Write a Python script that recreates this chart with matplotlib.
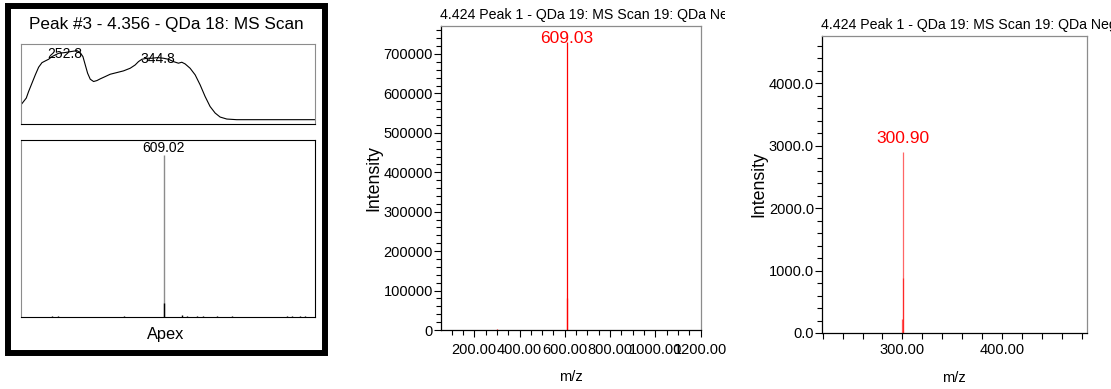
#!/usr/bin/env python3

import matplotlib
matplotlib.use("Agg")
import matplotlib.pyplot as plt
from matplotlib.patches import Rectangle
from matplotlib.ticker import MultipleLocator, FixedLocator
from matplotlib.transforms import Bbox


W, H = 1111, 389

# PDA spectrum at the peak apex (relative absorbance)
uv_wavelength = [210.0, 212.6, 215.2, 217.5, 220.8, 224.1, 227.4, 230.7, 233.9, 237.2,
                 240.5, 243.8, 247.1, 252.8, 258.6, 265.2, 268.4, 271.1, 273.4, 275.7,
                 278.3, 281.6, 284.9, 288.1, 293.1, 298.0, 304.6, 311.1, 317.7, 322.6,
                 325.9, 329.2, 334.1, 339.1, 344.8, 350.5, 355.5, 360.4, 365.3, 368.6,
                 371.9, 376.8, 381.8, 386.7, 391.6, 396.5, 401.5, 406.4, 413.0, 422.8,
                 500.0]
uv_absorbance = [0.240, 0.282, 0.324, 0.406, 0.510, 0.614, 0.710, 0.767, 0.788, 0.809,
                 0.842, 0.863, 0.884, 0.892, 0.904, 0.917, 0.892, 0.842, 0.738, 0.635,
                 0.560, 0.531, 0.543, 0.564, 0.593, 0.622, 0.643, 0.664, 0.697, 0.738,
                 0.780, 0.809, 0.822, 0.822, 0.830, 0.822, 0.809, 0.780, 0.760, 0.772,
                 0.751, 0.697, 0.614, 0.489, 0.344, 0.219, 0.137, 0.087, 0.062, 0.054,
                 0.054]
uv_labels = [252.8, 344.8]

# apex MS scan (QDa 18)
apex_mz = [170, 196, 453, 609.02, 610.02, 679, 698, 737, 763, 815, 874, 1089, 1109, 1141, 1161]
apex_int = [6000, 6000, 5000, 725000, 62000, 7000, 6000, 6000, 5000, 6000, 6000, 6000, 5000, 6000, 6000]
apex_label = 609.02

# MS scan 19 (QDa negative)
scan_mz = [299.90, 300.90, 301.00, 609.03, 610.03]
scan_int = [220, 2905, 880, 731000, 81000]
scan_label_full = 609.03
scan_label_zoom = 300.90

TITLE_SCAN = "4.424 Peak 1 - QDa 19: MS Scan 19: QDa Neg"
GRAY = "#8c8c8c"
RED = "#ff0000"

plt.rcParams["font.family"] = ["Liberation Sans", "DejaVu Sans"]


def px_box(x0, y0, x1, y1):
    return [x0 / W, 1 - y1 / H, (x1 - x0) / W, (y1 - y0) / H]


def style_spectrum_axes(ax):
    for side in ("top", "right"):
        ax.spines[side].set_color(GRAY)
    for side in ("left", "bottom"):
        ax.spines[side].set_color("black")
    for spine in ax.spines.values():
        spine.set_linewidth(0.9)
    ax.tick_params(axis="both", which="major", direction="out", length=5, width=0.8,
                   labelsize=10.5, colors="black")
    ax.tick_params(axis="both", which="minor", direction="out", length=3.5, width=0.8)
    ax.tick_params(axis="y", which="both", pad=0.5)
    ax.set_ylabel("Intensity", fontsize=12.8)
    ax.set_xlabel("m/z", fontsize=10.5, labelpad=10)


fig = plt.figure(figsize=(W / 100, H / 100), dpi=100)

# ---- panel 1: apex PDA + MS summary, framed ----
frame = Rectangle((8 / W, 1 - 353 / H), 317 / W, 347 / H, transform=fig.transFigure,
                  fill=False, edgecolor="black", linewidth=4.3)
fig.add_artist(frame)
fig.text(166 / W, 1 - 24 / H, "Peak #3 - 4.356 - QDa 18: MS Scan", ha="center", va="center",
         fontsize=12.3)
fig.text(166 / W, 1 - 335 / H, "Apex", ha="center", va="center", fontsize=11.8)

ax_uv = fig.add_axes(px_box(21, 44, 315, 124))
ax_uv.plot(uv_wavelength, uv_absorbance, color="black", linewidth=0.8)
ax_uv.set_xlim(210, 500)
ax_uv.set_ylim(0, 1)
for wl in uv_labels:
    ax_uv.annotate(f"{wl:.1f}", (wl, uv_absorbance[uv_wavelength.index(wl)]),
                   xytext=(0, -1), textcoords="offset points", ha="center", va="center",
                   fontsize=10)
ax_uv.set_xticks([])
ax_uv.set_yticks([])
for side in ("top", "left", "right"):
    ax_uv.spines[side].set_color(GRAY)
ax_uv.spines["bottom"].set_color("black")

ax_apex = fig.add_axes(px_box(21, 140, 315, 317))
main_idx = apex_mz.index(apex_label)
colors = [GRAY if i == main_idx else "black" for i in range(len(apex_mz))]
ax_apex.vlines(apex_mz, 0, apex_int, colors=colors, linewidth=1.0)
ax_apex.set_xlim(50, 1200)
ax_apex.set_ylim(0, 792000)
ax_apex.annotate(f"{apex_label:.2f}", (apex_label, apex_int[main_idx]), xytext=(0, 0),
                 textcoords="offset points", ha="center", va="bottom", fontsize=10)
ax_apex.set_xticks([])
ax_apex.set_yticks([])
ax_apex.spines["left"].set_color(GRAY)

# ---- panel 2: full m/z range ----
ax_full = fig.add_axes(px_box(440.7, 26, 700.7, 330))
ax_full.vlines(scan_mz, 0, scan_int, colors=RED, linewidth=0.9)
ax_full.set_xlim(52, 1200)
ax_full.set_ylim(0, 771000)
ax_full.xaxis.set_major_locator(FixedLocator([200, 400, 600, 800, 1000, 1200]))
ax_full.xaxis.set_minor_locator(MultipleLocator(50))
ax_full.yaxis.set_major_locator(MultipleLocator(100000))
ax_full.yaxis.set_minor_locator(MultipleLocator(20000))
ax_full.xaxis.set_major_formatter(lambda v, p: f"{v:.2f}")
ax_full.yaxis.set_major_formatter(lambda v, p: f"{v:.0f}")
style_spectrum_axes(ax_full)
ax_full.tick_params(axis="x", which="major", pad=4)
ax_full.yaxis.labelpad = 1
i = scan_mz.index(scan_label_full)
ax_full.annotate(f"{scan_label_full:.2f}", (scan_label_full, scan_int[i]), xytext=(0, -3),
                 textcoords="offset points", ha="center", va="bottom", fontsize=12.5,
                 color=RED)
t2 = fig.text(440.5 / W, 1 - 15 / H, TITLE_SCAN, ha="left", va="center", fontsize=10.2)
t2.set_clip_box(Bbox.from_extents(430, 0, 725, H))
t2.set_clip_on(True)

# ---- panel 3: zoom around 300 ----
ax_zoom = fig.add_axes(px_box(821.7, 36, 1086.7, 333))
ax_zoom.vlines(scan_mz, 0, scan_int, colors=RED, linewidth=0.9, alpha=0.6)
ax_zoom.set_xlim(219, 485)
ax_zoom.set_ylim(0, 4760)
ax_zoom.xaxis.set_major_locator(FixedLocator([300, 400]))
ax_zoom.xaxis.set_minor_locator(MultipleLocator(20))
ax_zoom.yaxis.set_major_locator(MultipleLocator(1000))
ax_zoom.yaxis.set_minor_locator(MultipleLocator(200))
ax_zoom.xaxis.set_major_formatter(lambda v, p: f"{v:.2f}")
ax_zoom.yaxis.set_major_formatter(lambda v, p: f"{v:.1f}")
style_spectrum_axes(ax_zoom)
ax_zoom.tick_params(axis="x", which="both", length=4, pad=3)
ax_zoom.yaxis.labelpad = 1
i = scan_mz.index(scan_label_zoom)
ax_zoom.annotate(f"{scan_label_zoom:.2f}", (scan_label_zoom, scan_int[i]), xytext=(0, 4),
                 textcoords="offset points", ha="center", va="bottom", fontsize=12.5,
                 color=RED)
fig.text(821 / W, 1 - 25.5 / H, TITLE_SCAN, ha="left", va="center", fontsize=10.2)

fig.savefig("out.png", dpi=100)
